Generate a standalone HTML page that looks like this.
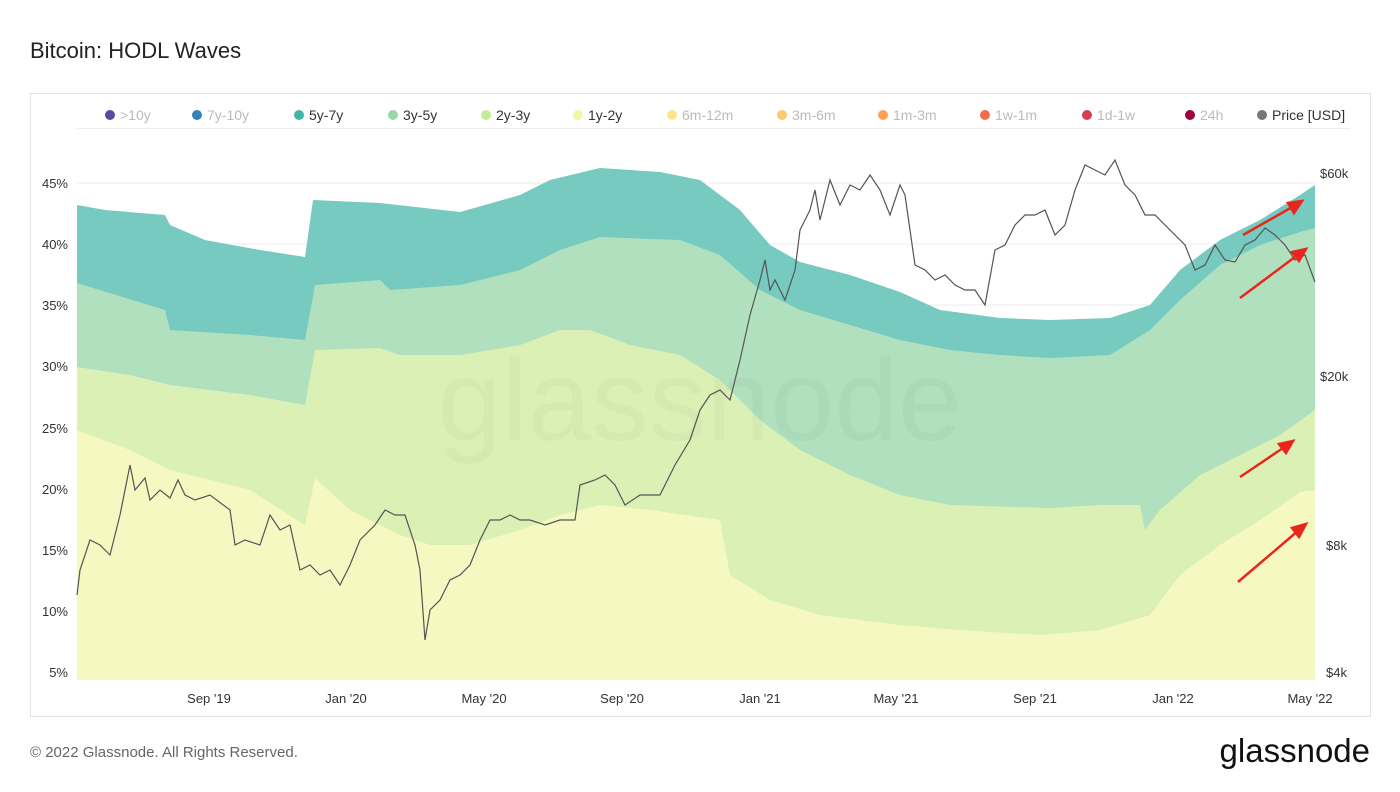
<!DOCTYPE html>
<html><head><meta charset="utf-8"><style>
body{margin:0;background:#fff;font-family:"Liberation Sans",sans-serif;}
</style></head><body>
<svg width="1400" height="787" viewBox="0 0 1400 787" xmlns="http://www.w3.org/2000/svg" font-family="Liberation Sans, sans-serif">
<rect width="1400" height="787" fill="#fff"/>
<text x="30" y="58" font-size="22" fill="#222">Bitcoin: HODL Waves</text>
<rect x="30.5" y="93.5" width="1340" height="623" fill="none" stroke="#e3e3e3"/>
<line x1="77" y1="128.5" x2="1350" y2="128.5" stroke="#eee"/>
<g font-size="14">
<circle cx="110" cy="115" r="5" fill="#5a4a9e"/><text x="120" y="120" fill="#bbb">&gt;10y</text>
<circle cx="197" cy="115" r="5" fill="#3182bd"/><text x="207" y="120" fill="#bbb">7y-10y</text>
<circle cx="299" cy="115" r="5" fill="#41b6a6"/><text x="309" y="120" fill="#333">5y-7y</text>
<circle cx="393" cy="115" r="5" fill="#99d8a6"/><text x="403" y="120" fill="#333">3y-5y</text>
<circle cx="486" cy="115" r="5" fill="#c7e99a"/><text x="496" y="120" fill="#333">2y-3y</text>
<circle cx="578" cy="115" r="5" fill="#f0f5a8"/><text x="588" y="120" fill="#333">1y-2y</text>
<circle cx="672" cy="115" r="5" fill="#fde68a"/><text x="682" y="120" fill="#bbb">6m-12m</text>
<circle cx="782" cy="115" r="5" fill="#fdc774"/><text x="792" y="120" fill="#bbb">3m-6m</text>
<circle cx="883" cy="115" r="5" fill="#fd9f55"/><text x="893" y="120" fill="#bbb">1m-3m</text>
<circle cx="985" cy="115" r="5" fill="#f26b4d"/><text x="995" y="120" fill="#bbb">1w-1m</text>
<circle cx="1087" cy="115" r="5" fill="#d63c52"/><text x="1097" y="120" fill="#bbb">1d-1w</text>
<circle cx="1190" cy="115" r="5" fill="#9e0142"/><text x="1200" y="120" fill="#bbb">24h</text>
<circle cx="1262" cy="115" r="5" fill="#777"/><text x="1272" y="120" fill="#333">Price [USD]</text>
</g>
<g stroke="#eee">
<line x1="77" y1="183" x2="1315" y2="183"/><line x1="77" y1="244" x2="1315" y2="244"/>
<line x1="77" y1="305" x2="1315" y2="305"/><line x1="77" y1="366" x2="1315" y2="366"/>
<line x1="77" y1="428" x2="1315" y2="428"/><line x1="77" y1="489" x2="1315" y2="489"/>
<line x1="77" y1="550" x2="1315" y2="550"/><line x1="77" y1="611" x2="1315" y2="611"/>
<line x1="77" y1="672" x2="1315" y2="672"/>
</g>
<polygon fill="#76cabf" points="77,680 77,205 105,210 165,215 170,225 205,240 260,250 305,257 313,200 380,203 460,212 520,195 550,180 600,168 660,172 700,180 740,210 770,245 800,262 850,275 900,292 940,310 1000,318 1050,320 1110,318 1150,305 1180,270 1220,240 1260,220 1300,195 1315,185 1315,680"/>
<polygon fill="#b0e0bd" points="77,680 77,283 165,310 170,330 250,335 305,340 315,285 380,280 390,290 460,285 520,270 560,250 600,237 680,240 720,255 760,290 800,310 850,325 900,340 950,350 1000,355 1050,358 1110,355 1150,330 1180,300 1220,265 1260,245 1300,232 1315,228 1315,680"/>
<polygon fill="#daf0b5" points="77,680 77,367 130,375 170,385 250,395 305,405 315,350 380,348 400,355 460,355 520,345 560,330 590,330 630,345 680,355 720,380 760,420 800,450 850,475 900,495 950,505 1050,508 1100,505 1140,505 1145,530 1160,510 1200,475 1240,455 1280,435 1315,410 1315,680"/>
<polygon fill="#f5f8c1" points="77,680 77,430 130,450 170,470 250,490 305,525 315,478 350,510 400,535 430,545 470,545 520,530 560,515 600,505 650,510 720,520 730,575 770,600 820,615 900,625 960,630 1040,635 1100,630 1150,615 1180,575 1220,545 1260,520 1300,492 1315,490 1315,680"/>
<text x="700" y="440" font-size="115" fill="#000" fill-opacity="0.025" text-anchor="middle">glassnode</text>
<polyline fill="none" stroke="#555" stroke-width="1.2" points="77,595 80,570 90,540 100,545 110,555 120,515 125,490 130,465 135,490 145,478 150,500 160,490 170,498 178,480 185,495 195,500 210,495 230,510 235,545 245,540 260,545 270,515 280,530 290,525 300,570 310,565 320,575 330,570 340,585 350,565 360,540 375,525 385,510 395,515 405,515 415,545 420,570 425,640 430,610 440,600 450,580 460,575 470,565 480,540 490,520 500,520 510,515 520,520 530,520 545,525 560,520 575,520 580,485 595,480 605,475 615,485 625,505 640,495 660,495 675,465 690,440 700,410 710,395 720,390 730,400 740,360 750,315 760,280 765,260 770,290 775,280 785,300 795,270 800,230 810,210 815,190 820,220 830,180 840,205 850,185 860,190 870,175 880,190 890,215 900,185 905,195 915,265 925,270 935,280 945,275 955,285 965,290 975,290 985,305 995,250 1005,245 1015,225 1025,215 1035,215 1045,210 1055,235 1065,225 1075,190 1085,165 1095,170 1105,175 1115,160 1125,185 1135,195 1145,215 1155,215 1165,225 1175,235 1185,245 1195,270 1205,265 1215,245 1225,260 1235,262 1245,245 1255,240 1265,228 1275,235 1285,245 1295,260 1305,255 1315,282"/>
<g stroke="#e8261c" stroke-width="2.5" fill="#e8261c">
<line x1="1243" y1="235" x2="1294" y2="206"/><polygon points="1302,201 1288,203 1294,213"/>
<line x1="1240" y1="298" x2="1299" y2="254"/><polygon points="1306,249 1292,252 1299,261"/>
<line x1="1240" y1="477" x2="1286" y2="446"/><polygon points="1293,441 1279,444 1286,453"/>
<line x1="1238" y1="582" x2="1299" y2="530"/><polygon points="1306,524 1292,528 1299,537"/>
</g>
<g font-size="13" fill="#333" text-anchor="end">
<text x="68" y="188">45%</text><text x="68" y="249">40%</text><text x="68" y="310">35%</text>
<text x="68" y="371">30%</text><text x="68" y="433">25%</text><text x="68" y="494">20%</text>
<text x="68" y="555">15%</text><text x="68" y="616">10%</text><text x="68" y="677">5%</text>
</g>
<g font-size="13" fill="#333">
<text x="1320" y="178">$60k</text><text x="1320" y="381">$20k</text>
<text x="1326" y="550">$8k</text><text x="1326" y="677">$4k</text>
</g>
<g font-size="13" fill="#333" text-anchor="middle">
<text x="209" y="703">Sep '19</text><text x="346" y="703">Jan '20</text><text x="484" y="703">May '20</text>
<text x="622" y="703">Sep '20</text><text x="760" y="703">Jan '21</text><text x="896" y="703">May '21</text>
<text x="1035" y="703">Sep '21</text><text x="1173" y="703">Jan '22</text><text x="1310" y="703">May '22</text>
</g>
<text x="30" y="757" font-size="15" fill="#666">© 2022 Glassnode. All Rights Reserved.</text>
<text x="1370" y="762" font-size="33" fill="#111" text-anchor="end">glassnode</text>
</svg>
</body></html>
